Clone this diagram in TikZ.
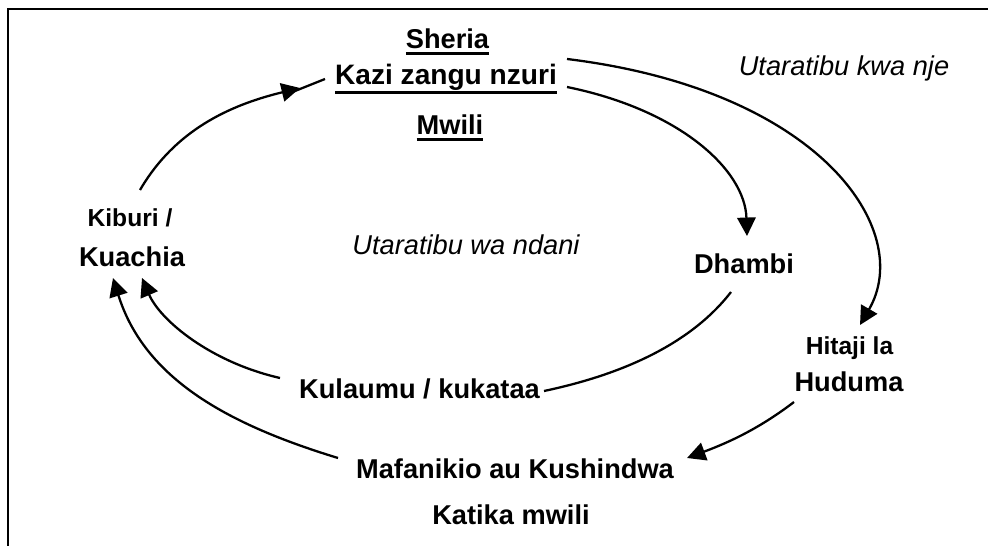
\documentclass[tikz,border=0pt]{standalone}
\usepackage{fontspec}
\setmainfont{Liberation Sans}
\usetikzlibrary{arrows.meta}
\newcommand{\ulin}[2][3.2pt]{\setbox0\hbox{#2}\rlap{\rule[-#1]{\wd0}{1.4pt}}\box0}

\begin{document}
\begin{tikzpicture}%
  [x=0.02cm,y=-0.02cm,line width=1.3pt,
   >={Triangle[length=10.5pt,width=10.5pt]}]
  \tikzstyle{big node}=[anchor=base,inner sep=0,font=\bfseries\fontsize{15.5}{18}\selectfont]
  \tikzstyle{small node}=[big node,font=\bfseries\fontsize{14}{17}\selectfont]
  \tikzstyle{note node}=[anchor=base,inner sep=0,font=\itshape\fontsize{15.5}{18}\selectfont]
  \useasboundingbox (0,0) rectangle (990,546);
  \draw[line width=0.9pt] (8,546) -- (8,9) -- (988,9);
  % top
  \node[big node](sheria) at (447.5,49) {\ulin{Sheria}};
  \node[big node,font=\bfseries\fontsize{16}{18}\selectfont](kazi) at (446,85) {\ulin[5pt]{Kazi zangu nzuri}};
  \node[big node](mwili) at (450,135) {\ulin{Mwili}};
  \node[note node](nje) at (844,76) {Utaratibu kwa nje};
  % middle
  \node[small node](kiburi) at (130,227) {Kiburi /};
  \node[big node](kuachia) at (132,267) {Kuachia};
  \node[note node](ndani) at (466,255) {Utaratibu wa ndani};
  \node[big node](dhambi) at (744,274) {Dhambi};
  \node[small node](hitaji) at (849.5,355) {Hitaji la};
  \node[big node](huduma) at (849,392) {Huduma};
  % bottom
  \node[big node](kulaumu) at (419.5,399) {Kulaumu / kukataa};
  \node[big node](mafanikio) at (515,479) {Mafanikio au Kushindwa};
  \node[big node](katika) at (511,525) {Katika mwili};
  % inner loop
  \draw[->] ([shift={(10,-37)}]kiburi.base) .. controls +(35,-60) and +(-70,17) .. ([shift={(-146,3)}]kazi.base);
  \draw ([shift={(-156,8)}]kazi.base) -- ([shift={(-121,-6)}]kazi.base);
  \draw[->] ([shift={(121,2)}]kazi.base) .. controls +(113,23) and +(-2,-66) .. ([shift={(3,-38)}]dhambi.base);
  \draw ([shift={(-13,18)}]dhambi.base) .. controls +(-41,53) and +(76,-16) .. ([shift={(124.5,-8)}]kulaumu.base);
  \draw[->] ([shift={(-139.5,-21)}]kulaumu.base) .. controls +(-70,-16) and +(18,42) .. ([shift={(10,11)}]kuachia.base);
  % outer loop
  \draw[->] ([shift={(119.5,10)}]sheria.base) .. controls +(253,31) and +(55,-95) .. ([shift={(10.5,-30)}]hitaji.base);
  \draw[->] ([shift={(-55,10)}]huduma.base) .. controls +(-34,26) and +(43,-16) .. ([shift={(172,-21)}]mafanikio.base);
  \draw[->] ([shift={(-177,-21)}]mafanikio.base) .. controls +(-108,-33) and +(32,102) .. ([shift={(-19,11)}]kuachia.base);
\end{tikzpicture}
\end{document}
